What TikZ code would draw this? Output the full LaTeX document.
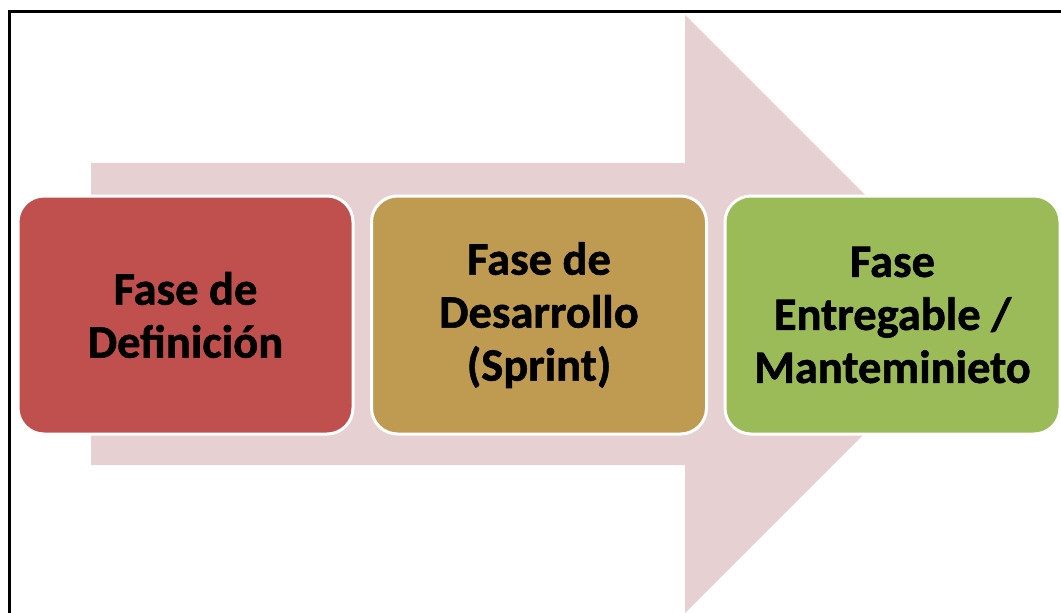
\documentclass[tikz,border=0pt]{standalone}
\usepackage{fontspec}
\setmainfont{Carlito}[BoldFeatures={FakeBold=1.2}]
\definecolor{arrowpink}{RGB}{231,208,209}
\definecolor{boxred}{RGB}{192,80,77}
\definecolor{boxgold}{RGB}{191,155,82}
\definecolor{boxgreen}{RGB}{155,187,89}
\tikzset{
  phase/.style={draw=white, line width=3pt, rounded corners=26pt, minimum width=335pt, minimum height=238pt, inner sep=0pt, align=center, font=\bfseries\fontsize{46.5}{53}\selectfont, text=black},
}
\begin{document}
\begin{tikzpicture}[x=1pt,y=-1pt]
\useasboundingbox (0,0) rectangle (1061,613);
\clip (0,0) rectangle (1061,613);
\fill[white] (0,0) rectangle (1061,613);
% frame
\draw[line width=3pt, black] (9.5,11.5) rectangle (1090,650);
% big arrow
\fill[arrowpink] (91,163) -- (685,163) -- (685,15) -- (984,314) -- (685,613) -- (685,465) -- (91,465) -- cycle;
% boxes
\node[phase, fill=boxred] (def) at (185.5,315) {Fase de\\Definición};
\node[phase, fill=boxgold] (des) at (539,315) {Fase de\\Desarrollo\\(Sprint)};
\node[phase, fill=boxgreen] (ent) at (892.5,315) {Fase\\Entregable /\\Manteminieto};
\end{tikzpicture}
\end{document}
